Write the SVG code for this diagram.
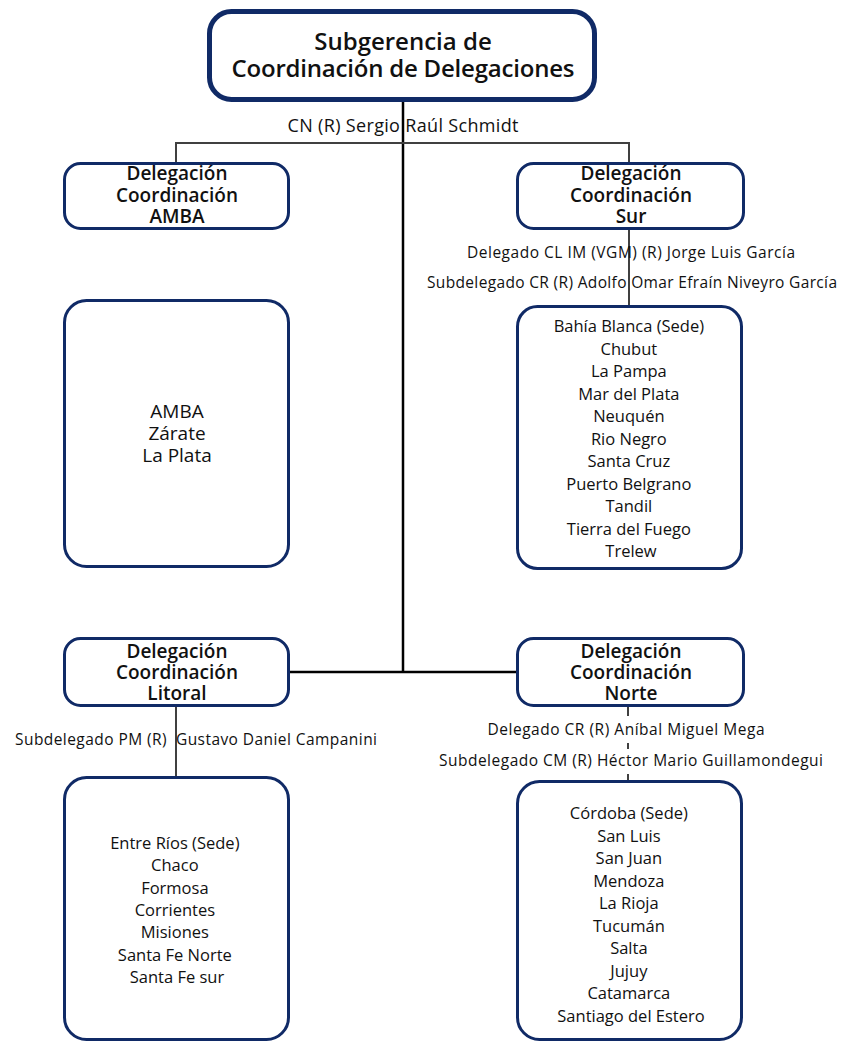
<svg xmlns="http://www.w3.org/2000/svg" width="842" height="1041" viewBox="0 0 842 1041">
<style>
.box{fill:#fff;stroke:#102a66;stroke-width:3}
.top{fill:#fff;stroke:#102a66;stroke-width:5}
.h{font-family:"Open Sans","Noto Sans",sans-serif;font-weight:600;fill:#111;text-anchor:middle}
.t{font-family:"Open Sans","Noto Sans",sans-serif;font-weight:400;fill:#111;text-anchor:middle}
.g{stroke:#404040;stroke-width:2;fill:none}
.k{stroke:#000;stroke-width:2.5;fill:none}
</style>
<rect width="842" height="1041" fill="#fff"/>
<g id="connectors">
<line class="k" x1="403" y1="102" x2="403" y2="672"/>
<polyline class="g" points="176,163 176,143 629,143 629,163"/>
<line class="g" x1="629" y1="230" x2="629" y2="306"/>
<line class="k" x1="290" y1="672" x2="516" y2="672" stroke-width="3"/>
<line class="g" x1="176" y1="707" x2="176" y2="777"/>
<line class="g" x1="628" y1="707" x2="628" y2="781"/>
</g>
<g id="subgerencia">
<rect class="top" x="209.5" y="11.5" width="385" height="88" rx="22"/>
<text class="h" x="403" y="50" font-size="24">Subgerencia de</text>
<text class="h" x="403" y="77" font-size="24" textLength="343">Coordinación de Delegaciones</text>
</g>
<g id="label-schmidt">
<text class="t" x="403" y="132" font-size="18" textLength="231">CN (R) Sergio Raúl Schmidt</text>
</g>
<g id="amba">
<rect class="box" x="64.5" y="163.5" width="224" height="65" rx="16"/>
<text class="h" x="177" y="180" font-size="19">Delegación</text>
<text class="h" x="177" y="202" font-size="19">Coordinación</text>
<text class="h" x="177" y="223" font-size="19">AMBA</text>
</g>
<g id="amba-list">
<rect class="box" x="64.5" y="300.5" width="224" height="266" rx="22"/>
<text class="t" x="177" y="418" font-size="19">AMBA</text>
<text class="t" x="177" y="440" font-size="19">Zárate</text>
<text class="t" x="177" y="462" font-size="19">La Plata</text>
</g>
<g id="sur">
<rect class="box" x="517.5" y="163.5" width="226" height="65" rx="16"/>
<text class="h" x="631" y="180" font-size="19">Delegación</text>
<text class="h" x="631" y="202" font-size="19">Coordinación</text>
<text class="h" x="631" y="223" font-size="19">Sur</text>
</g>
<g id="sur-labels">
<text class="t" x="631" y="258" font-size="15.5" textLength="328">Delegado CL IM (VGM) (R) Jorge Luis García</text>
<text class="t" x="632" y="288" font-size="15.5" textLength="410">Subdelegado CR (R) Adolfo Omar Efraín Niveyro García</text>
</g>
<g id="sur-list">
<rect class="box" x="517.5" y="306.5" width="224" height="262" rx="20"/>
<text class="t" font-size="16.5">
<tspan x="631" y="332">Bahía Blanca (Sede)</tspan>
<tspan x="631" y="354.5">Chubut</tspan>
<tspan x="631" y="377">La Pampa</tspan>
<tspan x="631" y="399.5">Mar del Plata</tspan>
<tspan x="631" y="422">Neuquén</tspan>
<tspan x="631" y="444.5">Rio Negro</tspan>
<tspan x="631" y="467">Santa Cruz</tspan>
<tspan x="631" y="489.5">Puerto Belgrano</tspan>
<tspan x="631" y="512">Tandil</tspan>
<tspan x="631" y="534.5">Tierra del Fuego</tspan>
<tspan x="631" y="557">Trelew</tspan>
</text>
</g>
<g id="litoral">
<rect class="box" x="64.5" y="638.5" width="224" height="67" rx="16"/>
<text class="h" x="177" y="658" font-size="19">Delegación</text>
<text class="h" x="177" y="679" font-size="19">Coordinación</text>
<text class="h" x="177" y="700" font-size="19">Litoral</text>
</g>
<g id="litoral-label">
<text class="t" x="196" y="745" font-size="15.5" textLength="362" xml:space="preserve">Subdelegado PM (R)  Gustavo Daniel Campanini</text>
</g>
<g id="litoral-list">
<rect class="box" x="64.5" y="777.5" width="224" height="262" rx="22"/>
<text class="t" font-size="16.5">
<tspan x="177" y="849">Entre Ríos (Sede)</tspan>
<tspan x="177" y="871.3">Chaco</tspan>
<tspan x="177" y="893.6">Formosa</tspan>
<tspan x="177" y="916">Corrientes</tspan>
<tspan x="177" y="938.3">Misiones</tspan>
<tspan x="177" y="960.6">Santa Fe Norte</tspan>
<tspan x="177" y="983">Santa Fe sur</tspan>
</text>
</g>
<g id="norte">
<rect class="box" x="517.5" y="638.5" width="226" height="67" rx="16"/>
<text class="h" x="631" y="658" font-size="19">Delegación</text>
<text class="h" x="631" y="679" font-size="19">Coordinación</text>
<text class="h" x="631" y="700" font-size="19">Norte</text>
</g>
<g id="norte-labels">
<rect x="484" y="716" width="285" height="27" fill="#fff"/>
<text class="t" x="626" y="735" font-size="15.5" textLength="277">Delegado CR (R) Aníbal Miguel Mega</text>
<rect x="436" y="749" width="390" height="25" fill="#fff"/>
<text class="t" x="631" y="766" font-size="15.5" textLength="384">Subdelegado CM (R) Héctor Mario Guillamondegui</text>
</g>
<g id="norte-list">
<rect class="box" x="517.5" y="781.5" width="224" height="258" rx="22"/>
<text class="t" font-size="16.5">
<tspan x="631" y="819">Córdoba (Sede)</tspan>
<tspan x="631" y="841.6">San Luis</tspan>
<tspan x="631" y="864.1">San Juan</tspan>
<tspan x="631" y="886.7">Mendoza</tspan>
<tspan x="631" y="909.2">La Rioja</tspan>
<tspan x="631" y="931.8">Tucumán</tspan>
<tspan x="631" y="954.3">Salta</tspan>
<tspan x="631" y="976.9">Jujuy</tspan>
<tspan x="631" y="999.4">Catamarca</tspan>
<tspan x="631" y="1022">Santiago del Estero</tspan>
</text>
</g>
</svg>
